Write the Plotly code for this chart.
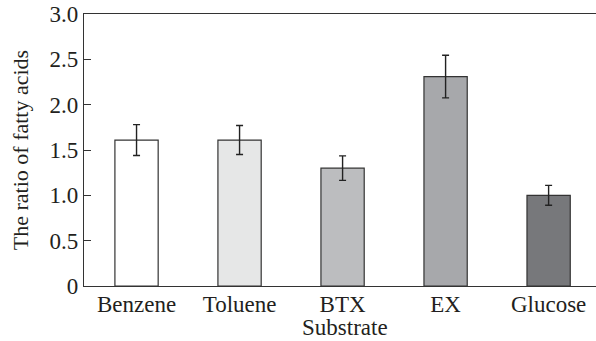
import plotly.graph_objects as go

categories = ["Benzene", "Toluene", "BTX", "EX", "Glucose"]
values = [1.61, 1.61, 1.30, 2.31, 1.00]
errors = [0.17, 0.16, 0.135, 0.235, 0.11]
colors = ["#ffffff", "#e6e7e7", "#bcbdbf", "#a7a8ab", "#77787b"]
y_ticks = [0, 0.5, 1.0, 1.5, 2.0, 2.5, 3.0]
y_ticklabels = ["0", "0.5", "1.0", "1.5", "2.0", "2.5", "3.0"]

font_family = "Liberation Serif, Times New Roman, serif"

fig = go.Figure()
fig.add_trace(go.Bar(
    x=categories, y=values,
    marker=dict(color=colors, line=dict(color="#333333", width=1.2)),
    error_y=dict(type="data", array=errors, color="#222222", thickness=1.4, width=3.5),
    width=0.42,
))

fig.update_layout(
    width=596, height=341,
    margin=dict(l=84, r=0, t=14, b=55),
    paper_bgcolor="white", plot_bgcolor="white",
    font=dict(family=font_family, size=22, color="#231f20"),
    showlegend=False,
    xaxis=dict(
        range=[-0.51, 4.46], automargin=False,
        showline=True, linecolor="#333333", linewidth=1.2, mirror=True,
        ticks="", showgrid=False, zeroline=False,
        tickfont=dict(size=23),
        ticklabelstandoff=-3,
    ),
    yaxis=dict(
        range=[0, 3.0], automargin=False,
        tickvals=y_ticks, ticktext=y_ticklabels,
        ticks="inside", ticklen=7, tickcolor="#333333", tickwidth=1.2,
        showline=True, linecolor="#333333", linewidth=1.2,
        showgrid=False, zeroline=False,
        title=dict(text="The ratio of fatty acids", standoff=14, font=dict(size=22)),
        tickfont=dict(size=23),
    ),
    annotations=[dict(
        text="Substrate", xref="paper", yref="paper", x=0.51, y=0,
        xanchor="center", yanchor="middle", yshift=-41, showarrow=False,
        font=dict(size=23),
    )],
)

fig.write_html("out.html", config={"displayModeBar": False},
               post_script="document.body.style.margin='0px';")
